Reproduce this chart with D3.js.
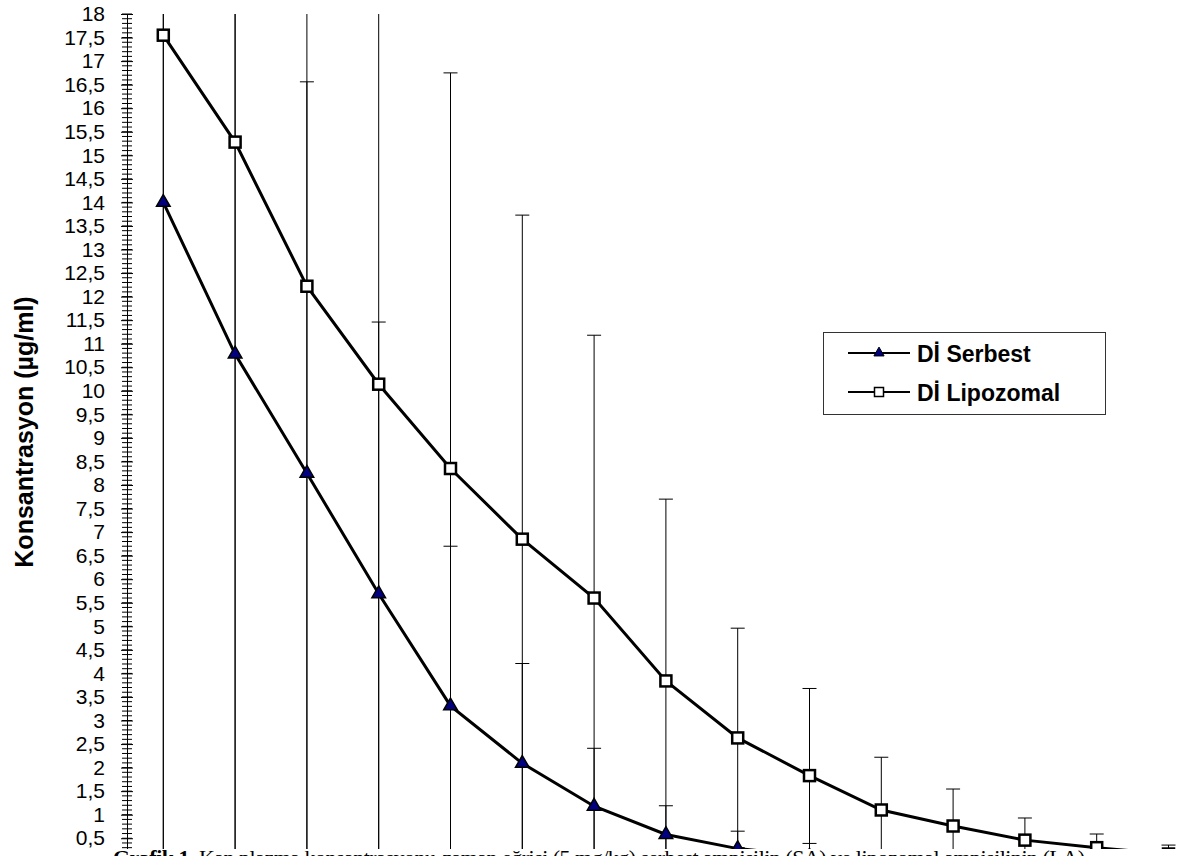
<!DOCTYPE html>
<meta charset="utf-8">
<style>

body {
  margin: 0;
  background: #fff;
}

text {
  font-family: "Liberation Sans", Arial, sans-serif;
}

</style>
<body>
<script src="https://cdn.jsdelivr.net/npm/d3@7"></script>
<script>

var width = 1177,
    height = 856;

// sample points (x labels are cut off in the source)
var samples = [1, 2, 3, 4, 5, 6, 7, 8, 9, 10, 11, 12, 13, 14, 15];

var serbest   = [14.0, 10.78, 8.25, 5.69, 3.31, 2.09, 1.18, 0.58, 0.28, 0.12, 0.06, 0.04, 0.03, 0.02, 0.02],
    serbestSD = [14.5, 11.2, 8.31, 5.77, 3.39, 2.12, 1.23, 0.61, 0.37, 0.27, 0.15, 0.10, 0.08, 0.06, 0.10];

var lipozomal   = [17.55, 15.28, 12.22, 10.14, 8.35, 6.85, 5.6, 3.84, 2.63, 1.83, 1.1, 0.76, 0.46, 0.3, 0.165],
    lipozomalSD = [18, 16, 13, 10.8, 8.4, 6.88, 5.58, 3.86, 2.33, 1.85, 1.12, 0.785, 0.47, 0.29, 0.19];

var yTicks = [0.5, 1, 1.5, 2, 2.5, 3, 3.5, 4, 4.5, 5, 5.5, 6, 6.5, 7, 7.5, 8, 8.5, 9,
              9.5, 10, 10.5, 11, 11.5, 12, 12.5, 13, 13.5, 14, 14.5, 15, 15.5, 16, 16.5, 17, 17.5, 18];

var seriesNames = ["Dİ Serbest", "Dİ Lipozomal"];

var yTitle = "Konsantrasyon (µg/ml)";
var caption = "Kan plazma konsantrasyonu-zaman eğrisi (5 mg/kg) serbest ampisilin (SA) ve lipozomal ampisilinin (LA)";

var x = d3.scalePoint()
    .domain(samples)
    .range([163.3, 1168.5]);

var y = d3.scaleLinear()
    .domain([0, 18])
    .range([861.8, 14]);

var svg = d3.select("body").append("svg")
    .attr("width", width)
    .attr("height", height);

svg.append("defs").append("clipPath")
    .attr("id", "plot")
  .append("rect")
    .attr("x", 130)
    .attr("y", 14)
    .attr("width", width - 130)
    .attr("height", 860);

// y axis
var yAxis = d3.axisLeft(y)
    .tickValues(yTicks)
    .tickFormat(function(d) { return String(d).replace(".", ","); })
    .tickSize(6)
    .tickSizeOuter(0)
    .tickPadding(16);

var ax = svg.append("g")
    .attr("transform", "translate(127,0)")
    .call(yAxis);

ax.select(".domain").attr("stroke", "#000");
ax.selectAll(".tick line").attr("x1", 6).attr("stroke", "#000");
ax.selectAll(".tick text")
    .attr("fill", "#000")
    .style("font-size", "21px")
    .style("font-family", "'Liberation Sans', Arial, sans-serif");

ax.selectAll(".minor")
    .data(d3.range(0, 18.001, 0.1))
  .enter().append("line")
    .attr("class", "minor")
    .attr("x1", -5)
    .attr("x2", 5)
    .attr("y1", function(d) { return y(d); })
    .attr("y2", function(d) { return y(d); })
    .attr("stroke", "#000");

svg.append("text")
    .attr("transform", "translate(33,432) rotate(-90)")
    .attr("text-anchor", "middle")
    .style("font-size", "25px")
    .style("font-weight", "bold")
    .text(yTitle);

var plot = svg.append("g").attr("clip-path", "url(#plot)");

function errorBars(values, sd) {
  var g = plot.append("g")
      .attr("stroke", "#000")
      .attr("stroke-width", 1);
  samples.forEach(function(s, i) {
    var cx = x(s),
        hi = y(values[i] + sd[i]),
        lo = y(values[i] - sd[i]);
    g.append("line").attr("x1", cx).attr("x2", cx).attr("y1", hi).attr("y2", lo);
    g.append("line").attr("x1", cx - 7).attr("x2", cx + 7).attr("y1", hi).attr("y2", hi);
    g.append("line").attr("x1", cx - 7).attr("x2", cx + 7).attr("y1", lo).attr("y2", lo);
  });
}

errorBars(serbest, serbestSD);
errorBars(lipozomal, lipozomalSD);

var line = d3.line()
    .x(function(d, i) { return x(samples[i]); })
    .y(function(d) { return y(d); });

[serbest, lipozomal].forEach(function(values) {
  plot.append("path")
      .datum(values)
      .attr("d", line)
      .attr("fill", "none")
      .attr("stroke", "#000")
      .attr("stroke-width", 3);
});

plot.selectAll(".tri")
    .data(serbest)
  .enter().append("path")
    .attr("class", "tri")
    .attr("transform", function(d, i) { return "translate(" + x(samples[i]) + "," + y(d) + ")"; })
    .attr("d", d3.symbol(d3.symbolTriangle, 80))
    .attr("fill", "#000080")
    .attr("stroke", "#000")
    .attr("stroke-width", 1.5);

plot.selectAll(".sq")
    .data(lipozomal)
  .enter().append("rect")
    .attr("class", "sq")
    .attr("x", function(d, i) { return x(samples[i]) - 5.5; })
    .attr("y", function(d) { return y(d) - 5.5; })
    .attr("width", 11)
    .attr("height", 11)
    .attr("fill", "#fff")
    .attr("stroke", "#000")
    .attr("stroke-width", 2.5);

// legend
var legend = svg.append("g");

legend.append("rect")
    .attr("x", 823.5)
    .attr("y", 332.5)
    .attr("width", 282)
    .attr("height", 82)
    .attr("fill", "#fff")
    .attr("stroke", "#333");

var rows = legend.selectAll(".row")
    .data(seriesNames)
  .enter().append("g")
    .attr("transform", function(d, i) { return "translate(0," + (353 + i * 39) + ")"; });

rows.append("line")
    .attr("x1", 848)
    .attr("x2", 910)
    .attr("stroke", "#000")
    .attr("stroke-width", 2);

rows.filter(function(d, i) { return i === 0; }).append("path")
    .attr("transform", "translate(879,0)")
    .attr("d", d3.symbol(d3.symbolTriangle, 45))
    .attr("fill", "#000080")
    .attr("stroke", "#000");

rows.filter(function(d, i) { return i === 1; }).append("rect")
    .attr("x", 874.5)
    .attr("y", -4.5)
    .attr("width", 9)
    .attr("height", 9)
    .attr("fill", "#fff")
    .attr("stroke", "#000")
    .attr("stroke-width", 1.5);

rows.append("text")
    .attr("x", 917)
    .attr("y", 8.5)
    .style("font-size", "23px")
    .style("font-weight", "bold")
    .text(function(d) { return d; });

// caption, cut off at the bottom of the page
svg.append("rect")
    .attr("x", 0)
    .attr("y", 849)
    .attr("width", width)
    .attr("height", 20)
    .attr("fill", "#fff");

var cap = svg.append("text")
    .attr("x", 113)
    .attr("y", 865)
    .attr("textLength", 972)
    .attr("lengthAdjust", "spacing")
    .style("font-family", "'Liberation Serif', 'Times New Roman', serif")
    .style("font-size", "22px");

cap.append("tspan").style("font-weight", "bold").text("Grafik 1. ");
cap.append("tspan").text(caption);

</script>
